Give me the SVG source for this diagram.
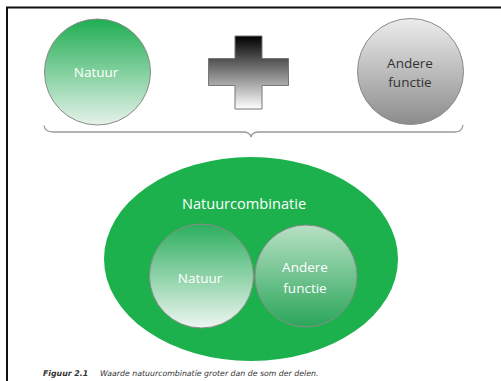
<svg xmlns="http://www.w3.org/2000/svg" width="501" height="381" viewBox="0 0 501 381">
<style>
.lbl{font-family:"Open Sans","Liberation Sans",sans-serif;font-size:13.5px;text-anchor:middle;dominant-baseline:central}
.w{fill:#ffffff}
.d{fill:#333333}
.circ{stroke:#8a8a8a;stroke-width:1}
.cap{font-family:"DejaVu Sans","Liberation Sans",sans-serif;font-size:7.8px;font-style:italic;fill:#333}
</style>
<defs>
<linearGradient id="gNat" x1="0" y1="0" x2="0" y2="1">
<stop offset="0" stop-color="#1fae52"/>
<stop offset="1" stop-color="#e6f2ea"/>
</linearGradient>
<linearGradient id="gAnd" x1="0" y1="0" x2="0" y2="1">
<stop offset="0" stop-color="#ececec"/>
<stop offset="1" stop-color="#8c8c8c"/>
</linearGradient>
<linearGradient id="gPlus" x1="0" y1="0" x2="0" y2="1">
<stop offset="0" stop-color="#000000"/>
<stop offset="1" stop-color="#ffffff"/>
</linearGradient>
<linearGradient id="gNat2" x1="0" y1="0" x2="0" y2="1">
<stop offset="0" stop-color="#2cae5e"/>
<stop offset="1" stop-color="#eef6f0"/>
</linearGradient>
<linearGradient id="gAnd2" x1="0" y1="0" x2="0" y2="1">
<stop offset="0" stop-color="#b8e0c4"/>
<stop offset="1" stop-color="#2aa65a"/>
</linearGradient>
</defs>
<rect width="501" height="381" fill="#ffffff"/>
<path d="M7,381 V7.5 H501" fill="none" stroke="#111" stroke-width="2"/>
<g id="natuur">
<circle class="circ" cx="97.5" cy="72" r="53" fill="url(#gNat)"/>
<text class="lbl w" x="96" y="72">Natuur</text>
</g>
<g id="plus">
<path d="M235,36 H262 V58.5 H288.5 V85.5 H262 V109 H235 V85.5 H208.5 V58.5 H235 Z" fill="url(#gPlus)" stroke="#777" stroke-width="1"/>
</g>
<g id="andere">
<circle class="circ" cx="410.5" cy="71.5" r="53" fill="url(#gAnd)"/>
<text class="lbl d" x="410" y="63">Andere</text>
<text class="lbl d" x="410" y="82">functie</text>
</g>
<g id="connectors">
<path d="M44,125.5 Q45,132 53,132 H243 Q250,132 251,137 Q252,132 259,132 H455 Q462,132 463,125" fill="none" stroke="#9a9a9a" stroke-width="1.3"/>
</g>
<g id="natuurcombinatie">
<ellipse cx="251" cy="259" rx="147" ry="102" fill="#1db14d"/>
<text class="lbl w" x="244" y="203" style="font-size:14.6px">Natuurcombinatie</text>
</g>
<g id="natuur2">
<circle class="circ" cx="201.5" cy="276" r="52" fill="url(#gNat2)"/>
<text class="lbl w" x="200" y="278">Natuur</text>
</g>
<g id="andere2">
<circle class="circ" cx="306" cy="276" r="51" fill="url(#gAnd2)"/>
<text class="lbl w" x="305" y="267">Andere</text>
<text class="lbl w" x="305" y="288">functie</text>
</g>
<g id="caption">
<text class="cap" x="43" y="375.5"><tspan font-weight="bold">Figuur 2.1</tspan><tspan x="100">Waarde natuurcombinatie groter dan de som der delen.</tspan></text>
</g>
</svg>
